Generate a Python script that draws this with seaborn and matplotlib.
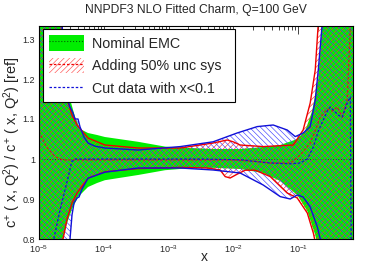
import numpy as np
import seaborn as sns
import matplotlib
matplotlib.use("Agg")
import matplotlib.pyplot as plt
from matplotlib.patches import Patch
from matplotlib.lines import Line2D

# ---- data (ratio to reference fit) ----
# nominal EMC band (green)
green_up_x = [1e-5, 2.26e-5, 3.01e-5, 3.6e-5, 4.3e-5, 5.71e-5, 7.87e-5, 1.04e-4, 3.38e-4, 8.83e-4,
              1.8e-3, 4.86e-3, 1.27e-2, 2.88e-2, 5.27e-2, 9.66e-2, 0.128, 0.164, 0.204, 0.235, 0.70]
green_up_y = [1.50, 1.34, 1.15, 1.105, 1.075, 1.065, 1.06, 1.055, 1.043, 1.031,
              1.028, 1.025, 1.025, 1.03, 1.035, 1.05, 1.07, 1.12, 1.20, 1.34, 1.50]
green_lo_x = [1e-5, 2.26e-5, 2.71e-5, 3.23e-5, 4.0e-5, 5.71e-5, 7.87e-5, 1.04e-4, 3.38e-4, 8.83e-4,
              1.8e-3, 4.86e-3, 1.27e-2, 2.88e-2, 5.27e-2, 9.66e-2, 0.138, 0.183, 0.219, 0.70]
green_lo_y = [0.50, 0.79, 0.84, 0.875, 0.905, 0.93, 0.94, 0.947, 0.96, 0.972,
              0.976, 0.978, 0.975, 0.965, 0.945, 0.91, 0.87, 0.81, 0.75, 0.50]
green_c_x = [1e-5, 0.70]
green_c_y = [1.0, 1.0]

# adding 50% unc sys (red)
red_up_x = [1e-5, 2.26e-5, 2.71e-5, 3.23e-5, 3.87e-5, 5.71e-5, 1.04e-4, 3.38e-4, 1.51e-3, 4.86e-3,
            8.0e-3, 9.9e-3, 1.27e-2, 2.88e-2, 8.37e-2, 9.66e-2, 0.119, 0.153, 0.183, 0.204, 0.70]
red_up_y = [1.50, 1.34, 1.15, 1.11, 1.085, 1.0525, 1.035, 1.0275, 1.0275, 1.04,
            1.0475, 1.043, 1.035, 1.031, 1.035, 1.05, 1.0725, 1.14, 1.2225, 1.34, 1.50]
red_lo_x = [1e-5, 2.35e-5, 2.71e-5, 3.23e-5, 3.87e-5, 5.71e-5, 1.04e-4, 3.38e-4, 1.51e-3, 3.93e-3,
            6.24e-3, 7.46e-3, 8.9e-3, 1.14e-2, 1.52e-2, 2.17e-2, 3.7e-2, 6.76e-2, 9.66e-2, 0.138,
            0.171, 0.190, 0.70]
red_lo_y = [0.50, 0.80, 0.85, 0.89, 0.915, 0.952, 0.968, 0.976, 0.979, 0.9775,
            0.9725, 0.956, 0.9525, 0.962, 0.972, 0.972, 0.956, 0.915, 0.9025, 0.865,
            0.815, 0.78, 0.50]
red_c_x = [1e-5, 1.31e-5, 1.77e-5, 2.35e-5, 8.9e-3, 1.81e-2, 3.7e-2, 7.52e-2, 0.107, 0.153,
           0.183, 0.219, 0.281, 0.335, 0.40, 0.478, 0.571, 0.647]
red_c_y = [1.068, 1.03, 1.006, 0.9975, 0.9975, 0.995, 0.99, 0.99, 1.01, 1.04,
           1.07, 1.105, 1.125, 1.12, 1.13, 1.105, 1.15, 1.36]

# cut data with x<0.1 (blue)
blue_up_x = [1e-5, 2.26e-5, 2.71e-5, 3.01e-5, 3.35e-5, 3.6e-5, 4.0e-5, 4.3e-5, 4.95e-5, 5.71e-5,
             7.33e-5, 1.04e-4, 3.38e-4, 1.51e-3, 4.86e-3, 1.14e-2, 2.33e-2, 4.11e-2, 6.76e-2,
             8.99e-2, 0.119, 0.153, 0.183, 0.204, 0.235, 0.70]
blue_up_y = [1.50, 1.34, 1.15, 1.13, 1.115, 1.10, 1.10, 1.08, 1.055, 1.04,
             1.032, 1.0275, 1.0225, 1.031, 1.043, 1.065, 1.081, 1.085, 1.0725,
             1.056, 1.065, 1.081, 1.1475, 1.2225, 1.34, 1.50]
blue_lo_x = [1e-5, 3.01e-5, 3.23e-5, 3.47e-5, 3.87e-5, 4.15e-5, 4.62e-5, 5.71e-5, 1.04e-4, 3.38e-4,
             1.51e-3, 4.86e-3, 1.27e-2, 2.88e-2, 5.27e-2, 7.52e-2, 9.66e-2, 0.119, 0.153,
             0.197, 0.226, 0.70]
blue_lo_y = [0.50, 0.80, 0.86, 0.89, 0.9025, 0.905, 0.925, 0.952, 0.967, 0.9775,
             0.9775, 0.9725, 0.965, 0.935, 0.906, 0.90, 0.91, 0.905, 0.88,
             0.83, 0.79, 0.50]
blue_c_x = [1.64e-5, 2.11e-5, 2.68e-5, 3.2e-5, 3.6e-5, 3.07e-3, 1.27e-2, 3.7e-2, 7.52e-2, 0.107,
            0.138, 0.171, 0.204, 0.281, 0.312, 0.415, 0.478, 0.571, 0.636, 0.658]
blue_c_y = [0.79, 0.8725, 0.94, 0.993, 1.0, 1.0, 0.998, 0.99, 0.988, 0.99,
            1.0, 1.03, 1.07, 1.12, 1.13, 1.11, 1.105, 1.14, 1.155, 0.75]

y_ticks = [0.8, 0.9, 1.0, 1.1, 1.2, 1.3]
y_ticklabels = ["0.8", "0.9", "1", "1.1", "1.2", "1.3"]

GREEN = "#00ee00"
RED = "#ee0000"
BLUE = "#1010d8"


def band_polygon(xu, yu, xl, yl):
    xs = np.concatenate([xu, xl[::-1]])
    ys = np.concatenate([yu, yl[::-1]])
    return xs, ys


if __name__ == '__main__':
    sns.set_style("white")
    plt.rcParams['font.family'] = ['Liberation Sans', 'DejaVu Sans']
    plt.rcParams['hatch.linewidth'] = 0.45
    plt.rcParams['mathtext.fontset'] = 'custom'
    plt.rcParams['mathtext.rm'] = 'Liberation Sans'
    plt.rcParams['mathtext.it'] = 'Liberation Sans'

    fig = plt.figure(figsize = (3.92, 2.66), dpi = 100)
    ax = fig.add_axes([39 / 392, 1 - 239 / 266, 314 / 392, 213 / 266])
    ax.set_xscale("log")

    # bands
    xs, ys = band_polygon(green_up_x, green_up_y, green_lo_x, green_lo_y)
    ax.fill(xs, ys, facecolor = GREEN, edgecolor = "none", lw = 0, zorder = 1)
    sns.lineplot(x = green_c_x, y = green_c_y, ax = ax, color = "#006000",
                 linewidth = 0.7, linestyle = ":", zorder = 2)

    xs, ys = band_polygon(red_up_x, red_up_y, red_lo_x, red_lo_y)
    ax.fill(xs, ys, facecolor = "none", edgecolor = "#ff3030", hatch = "//////",
            lw = 0, zorder = 3)
    xs, ys = band_polygon(blue_up_x, blue_up_y, blue_lo_x, blue_lo_y)
    ax.fill(xs, ys, facecolor = "none", edgecolor = "#4040ff", hatch = "\\\\\\\\\\\\",
            lw = 0, zorder = 3)

    # band edges
    for bx, by in [(red_up_x, red_up_y), (red_lo_x, red_lo_y)]:
        sns.lineplot(x = bx, y = by, ax = ax, color = RED, linewidth = 1.0, zorder = 4)
    for bx, by in [(blue_up_x, blue_up_y), (blue_lo_x, blue_lo_y)]:
        sns.lineplot(x = bx, y = by, ax = ax, color = BLUE, linewidth = 1.0, zorder = 4)

    # central values
    sns.lineplot(x = red_c_x, y = red_c_y, ax = ax, color = "#cc2020",
                 linewidth = 0.9, linestyle = (0, (2.0, 1.5)), zorder = 5)
    sns.lineplot(x = blue_c_x, y = blue_c_y, ax = ax, color = BLUE,
                 linewidth = 0.9, linestyle = (0, (2.0, 1.5)), zorder = 5)

    ax.set_xlim(1e-5, 0.70)
    ax.set_ylim(0.8, 1.3325)
    ax.set_yticks(y_ticks)
    ax.set_yticklabels(y_ticklabels)
    ax.tick_params(which = "both", direction = "in", top = True, right = True,
                   labelsize = 6.5, width = 0.6)
    ax.tick_params(which = "major", length = 6)
    ax.tick_params(which = "minor", length = 3)
    ax.tick_params(axis = "x", pad = 3)
    ax.tick_params(axis = "y", pad = 3)
    for sp in ax.spines.values():
        sp.set_linewidth(0.8)
        sp.set_color("black")
        sp.set_zorder(10)
    ax.set_xlabel("")
    ax.set_ylabel("")

    fig.text(0.5, 1 - 9.5 / 266, "NNPDF3 NLO Fitted Charm, Q=100 GeV",
             ha = "center", va = "center", fontsize = 8.7)
    fig.text(12 / 392, 1 - 142 / 266,
             r"c$^{+}$ ( x, Q$^{2}$) / c$^{+}$ ( x, Q$^{2}$) [ref]",
             rotation = 90, ha = "center", va = "center", fontsize = 10.5)
    fig.text(204 / 392, 1 - 257 / 266, "x", ha = "center", va = "center", fontsize = 10)

    # legend
    handles = [
        (Patch(facecolor = GREEN, edgecolor = "none"),
         Line2D([], [], color = "#006000", linestyle = ":", linewidth = 0.8)),
        (Patch(facecolor = "white", edgecolor = "#ff5050", hatch = "//////", linewidth = 0),
         Line2D([], [], color = RED, linestyle = (0, (2.0, 1.5)), linewidth = 0.9)),
        Line2D([], [], color = BLUE, linestyle = (0, (2.0, 1.5)), linewidth = 0.9),
    ]
    labels = ["Nominal EMC", "Adding 50% unc sys", "Cut data with x<0.1"]
    leg = ax.legend(handles, labels, loc = "upper left", mode = "expand",
                    bbox_to_anchor = (4 / 314, 0, 192 / 314, 210.5 / 213), borderaxespad = 0,
                    fontsize = 10.3, handlelength = 2.4, handleheight = 1.3,
                    handletextpad = 0.6, labelspacing = 0.5, borderpad = 0.45,
                    fancybox = False, framealpha = 1, edgecolor = "black")
    leg.get_frame().set_linewidth(0.8)
    leg.set_zorder(20)

    fig.savefig("out.png", dpi = 100)
